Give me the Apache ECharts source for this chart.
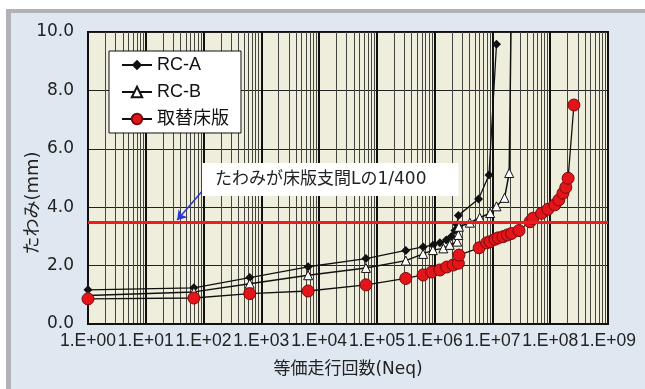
<!DOCTYPE html>
<html lang="ja">
<head>
<meta charset="utf-8">
<title>たわみ</title>
<script src="https://cdn.jsdelivr.net/npm/echarts@6/dist/echarts.min.js"></script>
<style>
html, body { margin: 0; padding: 0; background: #fff; }
#chart { width: 645px; height: 389px; }
</style>
</head>
<body>
<div id="chart"></div>
<script>
// 等価走行回数 N と たわみ(mm)
let rcaN = [1, 68, 630, 6450, 64600, 316000, 631000, 933000, 1230000, 1590000, 1950000, 2240000, 2450000, 2570000, 5750000, 8710000, 11750000];
let rcaD = [1.17, 1.24, 1.59, 1.96, 2.24, 2.52, 2.64, 2.70, 2.78, 2.88, 3.00, 3.20, 3.40, 3.72, 4.28, 5.10, 9.58];

// the last RC-B point runs off the top of the chart
let rcbN = [1, 68, 630, 6450, 64600, 316000, 631000, 933000, 1410000, 1820000, 2450000, 2570000, 2630000, 4070000, 6030000, 9120000, 11750000, 16200000, 19500000, 20900000];
let rcbD = [0.98, 1.10, 1.38, 1.67, 1.92, 2.17, 2.40, 2.53, 2.59, 2.71, 2.82, 3.05, 3.33, 3.47, 3.64, 3.80, 4.03, 4.32, 5.17, 10.0];

let slabN = [1, 68, 630, 6450, 64600, 316000, 631000, 890000, 1230000, 1620000, 2090000, 2570000, 2630000, 5890000, 7940000, 9120000, 11000000, 12600000, 15300000, 18200000, 21400000, 28800000, 44700000, 50100000, 70800000, 91200000, 120000000, 141000000, 166000000, 186000000, 204000000, 257000000];
let slabD = [0.86, 0.89, 1.04, 1.13, 1.34, 1.56, 1.68, 1.78, 1.85, 1.95, 2.02, 2.08, 2.36, 2.61, 2.78, 2.82, 2.90, 2.95, 2.99, 3.05, 3.10, 3.20, 3.50, 3.62, 3.79, 3.93, 4.08, 4.25, 4.48, 4.68, 4.99, 7.50];

let limitD = 3.5;
let arrowFrom = [92.7, 4.53];
let arrowTo = [35, 3.56];
let noteText = 'たわみが床版支間Lの1/400';

function pairs(xs, ys) {
    return xs.map((x, i) => {
        if (ys[i] >= 10) return { value: [x, ys[i]], symbol: 'none' };
        return [x, ys[i]];
    });
}

let font = '"DejaVu Sans", "Noto Sans CJK JP", sans-serif';

let chart = echarts.init(document.getElementById('chart'));

let option = {
    backgroundColor: '#fff',
    animation: false,
    graphic: [
        { type: 'rect', shape: { x: 6, y: 9, width: 700, height: 400 }, style: { fill: '#b0b2b5' }, z: -10 },
        { type: 'rect', shape: { x: 11, y: 13, width: 700, height: 400 }, style: { fill: '#dfe7f1' }, z: -9 },
        {
            type: 'text', left: 202, top: 163, z: 100,
            style: {
                text: noteText, fill: '#222', font: '17px "DejaVu Sans", "Noto Sans CJK JP", sans-serif',
                backgroundColor: '#fff', padding: [8, 32, 8, 13]
            }
        }
    ],
    grid: {
        left: 88, right: 37, top: 32, bottom: 65,
        show: true, backgroundColor: '#efeedd', borderColor: '#111', borderWidth: 2
    },
    legend: {
        orient: 'vertical', left: 109, top: 51,
        data: ['RC-A', 'RC-B', '取替床版'],
        backgroundColor: '#fff', borderColor: '#111', borderWidth: 1,
        padding: [5, 12, 5, 12], itemGap: 9, itemWidth: 30, itemHeight: 13,
        textStyle: { fontSize: 18, color: '#111', fontFamily: '"Liberation Sans", "Noto Sans CJK JP", sans-serif' }
    },
    xAxis: {
        type: 'log', logBase: 10, min: 1, max: 1e9, splitNumber: 9,
        name: '等価走行回数(Neq)', nameLocation: 'middle', nameGap: 37, nameMoveOverlap: false,
        nameTextStyle: { fontSize: 17, color: '#222', fontFamily: font },
        axisLine: { lineStyle: { color: '#111', width: 2 } },
        axisTick: { show: false },
        axisLabel: {
            margin: 8, fontSize: 17.5, color: '#222',
            fontFamily: '"Liberation Sans", sans-serif',
            showMinLabel: true, showMaxLabel: true, hideOverlap: false,
            formatter: (v) => {
                let e = Math.round(Math.log10(v));
                return '1.E+' + (e < 10 ? '0' : '') + e;
            }
        },
        splitLine: { show: true, lineStyle: { color: '#111', width: 2 } },
        minorTick: { show: false, splitNumber: 9 },
        minorSplitLine: { show: true, lineStyle: { color: '#45453f', width: 1 } }
    },
    yAxis: {
        type: 'value', min: 0, max: 10, interval: 2,
        name: 'たわみ(mm)', nameLocation: 'middle', nameGap: 46, nameMoveOverlap: false,
        nameTextStyle: { fontSize: 18, color: '#222', fontFamily: font, padding: [0, 50, 0, 0] },
        axisLine: { show: true, lineStyle: { color: '#111', width: 2 } },
        axisTick: { show: false },
        axisLabel: {
            margin: 14, fontSize: 17, color: '#222', fontFamily: font,
            showMinLabel: true, showMaxLabel: true,
            formatter: (v) => v.toFixed(1)
        },
        splitLine: { show: true, lineStyle: { color: '#222', width: 1 } }
    },
    series: [
        {
            name: 'limit', type: 'line', data: [], silent: true,
            markLine: {
                silent: true, symbol: 'none', label: { show: false },
                lineStyle: { color: '#ee1c1c', width: 3, type: 'solid' },
                data: [{ yAxis: limitD }]
            }
        },
        {
            name: 'arrow', type: 'line', data: [], silent: true,
            markLine: {
                silent: true, symbol: ['none', 'arrow'], symbolSize: 9, label: { show: false },
                lineStyle: { color: '#2a35d8', width: 1.5, type: 'solid' },
                data: [[{ coord: arrowFrom }, { coord: arrowTo }]],
                z: 50
            }
        },
        {
            name: 'RC-A', type: 'line', data: pairs(rcaN, rcaD),
            symbol: 'diamond', symbolSize: 9,
            itemStyle: { color: '#111' },
            lineStyle: { color: '#111', width: 1.3 }
        },
        {
            name: 'RC-B', type: 'line', data: pairs(rcbN, rcbD), clip: false,
            symbol: 'triangle', symbolSize: 9,
            itemStyle: { color: '#fff', borderColor: '#111', borderWidth: 1 },
            lineStyle: { color: '#111', width: 1.5 }
        },
        {
            name: '取替床版', type: 'line', data: pairs(slabN, slabD),
            symbol: 'circle', symbolSize: 12,
            itemStyle: { color: '#e3141a', borderColor: '#7a0a0a', borderWidth: 1 },
            lineStyle: { color: '#111', width: 1.3 }
        }
    ]
};

chart.setOption(option);
</script>
</body>
</html>
